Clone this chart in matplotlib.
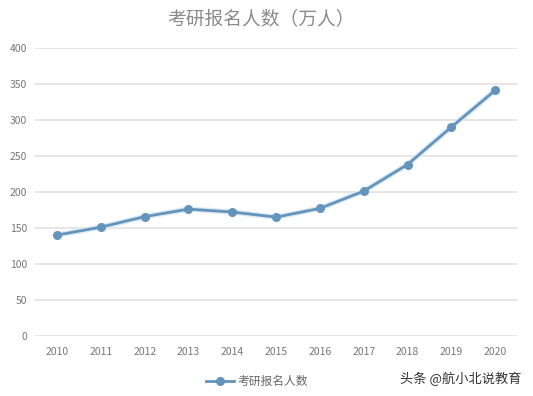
import matplotlib
matplotlib.use("Agg")
import matplotlib.pyplot as plt

plt.rcParams['font.family'] = ['Noto Sans CJK SC', 'DejaVu Sans']

years = ["2010", "2011", "2012", "2013", "2014", "2015",
         "2016", "2017", "2018", "2019", "2020"]
applicants = [140, 151, 165.6, 176, 172, 164.9, 177, 201, 238, 290, 341]
y_ticks = [0, 50, 100, 150, 200, 250, 300, 350, 400]

line_color = "#6494bb"

fig = plt.figure(figsize=(5.33, 3.96), dpi=100)
ax = fig.add_axes([0.066, 0.152, 0.904, 0.727])

x = list(range(len(years)))
# faint glow under the line
ax.plot(x, applicants, color="#dcebf6", linewidth=4, zorder=2,
        solid_capstyle="round")
ax.plot(x, applicants, color=line_color, linewidth=2.0, marker="o",
        markersize=5.5, markerfacecolor=line_color, markeredgecolor=line_color,
        zorder=3, label="考研报名人数")

ax.set_xlim(-0.5, len(years) - 0.5)
ax.set_ylim(0, 400)
ax.set_xticks(x)
ax.set_xticklabels(years)
ax.set_yticks(y_ticks)
ax.tick_params(axis="both", length=0, labelsize=7.5, colors="#777777")
ax.tick_params(axis="x", pad=8)
ax.tick_params(axis="y", pad=6)
for side in ["top", "right", "left", "bottom"]:
    ax.spines[side].set_visible(False)
ax.grid(axis="y", color="#e2e2e2", linewidth=1.2)
ax.set_axisbelow(True)

fig.text(0.49, 0.953, "考研报名人数（万人）", ha="center", va="center",
         fontsize=13.5, color="#8a8a8a")

ax.legend(loc="center", bbox_to_anchor=(0.46, -0.16), frameon=False,
          fontsize=8.5, labelcolor="#666666", handlelength=2.4,
          handletextpad=0.3)

fig.text(0.865, 0.043, "头条 @航小北说教育", ha="center", va="center",
         fontsize=9.5, color="#333333")

fig.savefig("out.png", dpi=100)
